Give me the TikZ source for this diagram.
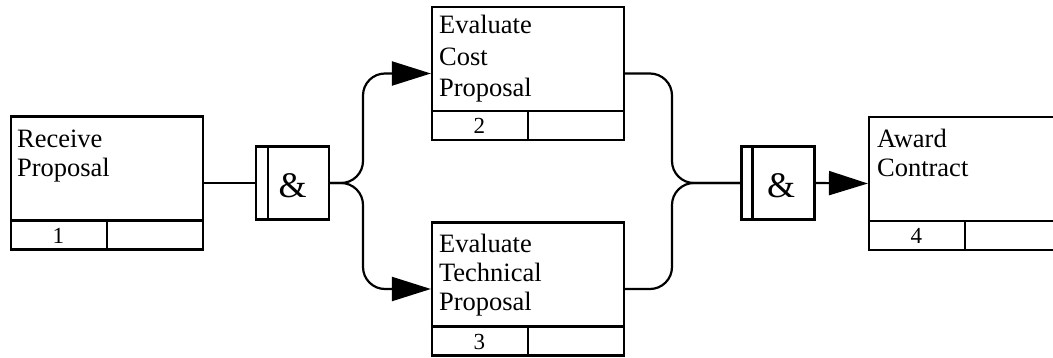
\documentclass[tikz,border=0pt]{standalone}
\usepackage{fontspec}
\setmainfont{Liberation Serif}
\usetikzlibrary{arrows.meta,calc}

\begin{document}
\begin{tikzpicture}[x=1pt,y=-1pt,
  task/.style={draw,line width=2.2pt,minimum width=192pt,minimum height=133pt,inner sep=0pt},
  tasktext/.style={anchor=base west,align=left,inner sep=0pt,font=\fontsize{26.5}{29}\selectfont},
  tasknum/.style={inner sep=0pt,font=\fontsize{23}{26}\selectfont},
  junction/.style={draw,line width=2.2pt,minimum size=73pt,inner sep=0pt},
  andsign/.style={inner sep=0pt,font=\fontsize{36}{40}\selectfont},
  link/.style={line width=2.2pt,rounded corners=22pt},
  flow/.style={link,-{Triangle[length=39pt,width=24pt]}}]
\useasboundingbox (0,0) rectangle (1053,358);

\node[task] (receive) at (107,183) {};
\node[task] (cost) at (528,73.5) {};
\node[task] (technical) at (528,289) {};
\node[task] (award) at (965,183.5) {};

\node[tasktext] (receive-text) at ([xshift=7pt,yshift=-61pt]receive.north west) {Receive\\Proposal};
\node[tasktext,font=\fontsize{26.5}{31.5}\selectfont] (cost-text) at ([xshift=8pt,yshift=-91pt]cost.north west) {Evaluate\\Cost\\Proposal};
\node[tasktext] (technical-text) at ([xshift=8pt,yshift=-89pt]technical.north west) {Evaluate\\Technical\\Proposal};
\node[tasktext] (award-text) at ([xshift=9pt,yshift=-61pt]award.north west) {Award\\Contract};

\foreach \t/\n in {receive/1,cost/2,technical/3,award/4} {
  \draw[line width=2.2pt] ([yshift=30pt]\t.south west) -- ([yshift=30pt]\t.south east);
  \draw[line width=2.2pt] (\t.south) -- ++(0,-30);
  \node[tasknum] (\t-num) at ($(\t.south west)!0.25!(\t.south east)+(0,-15)$) {\n};
}

\node[junction] (and1) at (292.5,183) {};
\draw[line width=2.2pt] ([xshift=13pt]and1.north west) -- ([xshift=13pt]and1.south west);
\node[andsign] (and1-sign) at ([yshift=-3pt]and1.center) {\&};

\node[junction] (and2) at (778,183) {};
\draw[line width=2.2pt] ([xshift=12pt]and2.north west) -- ([xshift=12pt]and2.south west);
\node[andsign] (and2-sign) at ([xshift=3pt,yshift=-3pt]and2.center) {\&};

\coordinate (split) at (363,183);
\coordinate (merge) at (672,183);

\draw[link] (receive.east) -- (and1.west);
\draw[flow] (and1.east) -- (split) |- (cost.west);
\draw[flow] (and1.east) -- (split) |- (technical.west);
\draw[link] (cost.east) -| (merge) -- (and2.west);
\draw[link] (technical.east) -| (merge) -- (and2.west);
\draw[flow] (and2.east) -- (award.west);
\end{tikzpicture}
\end{document}
